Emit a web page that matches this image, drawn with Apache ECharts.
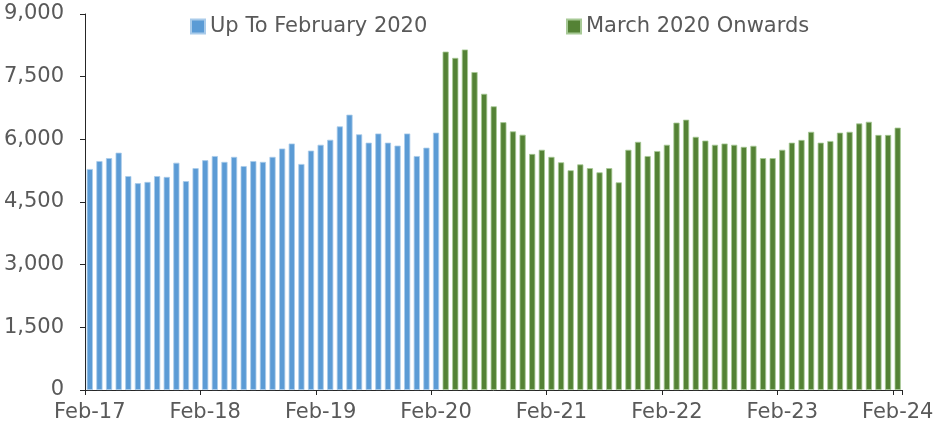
<!DOCTYPE html>
<html>
<head>
<meta charset="utf-8">
<script src="https://cdn.jsdelivr.net/npm/echarts@6/dist/echarts.min.js"></script>
<style>
html,body{margin:0;padding:0;background:#fff;}
#chart{width:939px;height:434px;}
</style>
</head>
<body>
<div id="chart"></div>
<script>
// Tick labels / categories
const monthNames = ['Jan','Feb','Mar','Apr','May','Jun','Jul','Aug','Sep','Oct','Nov','Dec'];
const years = ['17','18','19','20','21','22','23','24'];
const yTicks = [0, 1500, 3000, 4500, 6000, 7500, 9000];

// Up To February 2020 (Feb-17 .. Feb-20), 37 months
const preValues = [
  5290, 5480, 5550, 5680, 5120, 4950, 4980, 5120, 5100, 5440,
  5000, 5310, 5500, 5600, 5460, 5580, 5360, 5480, 5460, 5580,
  5780, 5900, 5410, 5730, 5870, 5990, 6310, 6590, 6120, 5920,
  6140, 5920, 5850, 6140, 5600, 5800, 6160
];
// March 2020 Onwards (Mar-20 .. Feb-24), 48 months
const postValues = [
  8100, 7950, 8150, 7610, 7090, 6790, 6410, 6190, 6110, 5650,
  5750, 5580, 5450, 5260, 5400, 5310, 5210, 5310, 4970, 5750,
  5940, 5600, 5720, 5870, 6400, 6470, 6060, 5970, 5870, 5900,
  5870, 5820, 5845, 5550, 5550, 5750, 5920, 5985, 6180, 5920,
  5960, 6160, 6180, 6380, 6420, 6105, 6105, 6280
];

const seriesNames = ['Up To February 2020', 'March 2020 Onwards'];

// build categories Feb-17 .. Feb-24
const categories = [];
for (let y = 0; y < years.length; y++) {
  for (let m = 0; m < 12; m++) {
    if (y === 0 && m < 1) continue;
    if (y === years.length - 1 && m > 1) continue;
    categories.push(monthNames[m] + '-' + years[y]);
  }
}
const nPre = preValues.length;
const blueData = categories.map((c, i) => i < nPre ? preValues[i] : null);
const greenData = categories.map((c, i) => i >= nPre ? postValues[i - nPre] : null);

const FONT = '"DejaVu Sans", sans-serif';
const TXT = '#595959';
const FS = 21;

const chart = echarts.init(document.getElementById('chart'), null, {renderer: 'canvas'});
chart.setOption({
  animation: false,
  backgroundColor: '#ffffff',
  grid: {left: 85, right: 36.5, top: 14, bottom: 44, containLabel: false},
  legend: [
    {data: [seriesNames[0]], left: 185, top: 11, itemWidth: 14, itemHeight: 14, itemGap: 0,
     textStyle: {color: TXT, fontFamily: FONT, fontSize: FS}, icon: 'rect'},
    {data: [seriesNames[1]], left: 561, top: 11, itemWidth: 14, itemHeight: 14, itemGap: 0,
     textStyle: {color: TXT, fontFamily: FONT, fontSize: FS}, icon: 'rect'}
  ],
  xAxis: {
    type: 'category',
    data: categories,
    boundaryGap: true,
    axisLine: {show: true, lineStyle: {color: '#262626', width: 1}},
    axisTick: {show: true, length: 5, alignWithLabel: false, interval: (i) => i % 12 === 0,
               lineStyle: {color: '#262626'}},
    axisLabel: {interval: (i) => i % 12 === 0, color: TXT, fontFamily: FONT, fontSize: FS, margin: 12},
    splitLine: {show: false}
  },
  yAxis: {
    type: 'value',
    min: yTicks[0],
    max: yTicks[yTicks.length - 1],
    interval: yTicks[1] - yTicks[0],
    axisLine: {show: true, lineStyle: {color: '#262626', width: 1}},
    axisTick: {show: true, length: 5, inside: false, lineStyle: {color: '#262626'}},
    axisLabel: {color: TXT, fontFamily: FONT, fontSize: FS, margin: 21,
                formatter: (v) => v.toLocaleString('en-US')},
    splitLine: {show: false}
  },
  series: [
    {name: seriesNames[0], type: 'bar', data: blueData, barWidth: '64%', barGap: '-100%',
     itemStyle: {color: '#5B9BD5', borderColor: '#A9CBEA', borderWidth: 0.8}},
    {name: seriesNames[1], type: 'bar', data: greenData, barWidth: '64%', barGap: '-100%',
     itemStyle: {color: '#548235', borderColor: '#A7C996', borderWidth: 0.8}}
  ]
});
</script>
</body>
</html>
